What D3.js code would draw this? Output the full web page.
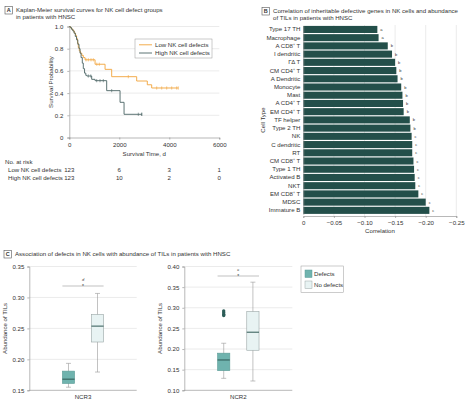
<!DOCTYPE html>
<html><head><meta charset="utf-8">
<script src="https://cdn.jsdelivr.net/npm/d3@7"></script>
<style>
body{margin:0;background:#fff;}
text{font-family:"Liberation Sans Narrow","Liberation Sans",Arial,sans-serif;fill:#333;}
</style></head><body>
<script>
// ---------- DATA ----------
// Panel A: Kaplan-Meier steps
const lowTimes = [0,40,80,120,160,200,250,290,330,360,400,440,500,560,630,1030,1430,1695,2695,3120,3295];
const lowSurv  = [1.0,0.99,0.98,0.97,0.96,0.94,0.92,0.89,0.85,0.81,0.78,0.76,0.74,0.72,0.70,0.66,0.614,0.548,0.509,0.475,0.446];
const lowEnd = 4360;
const lowCensor = [668,760,868,960,1100,1200,2360,3496,3696,3896,4096,4296];
const highTimes = [0,40,90,140,190,240,290,340,390,430,470,520,560,610,660,700,895,1030,1495,2030,2190];
const highSurv  = [1.0,0.99,0.975,0.96,0.94,0.91,0.88,0.84,0.80,0.76,0.72,0.67,0.62,0.58,0.56,0.554,0.524,0.512,0.422,0.317,0.209];
const highEnd = 2900;
const highCensor = [760,860,1096,1228,1360,1696,2760,2896];
const kmXTicks = [0,2000,4000,6000];
const kmYTicks = [0,0.2,0.4,0.6,0.8,1.0];
const riskGroups = ["Low NK cell defects","High NK cell defects"];
const riskLow = [123,6,3,1];
const riskHigh = [123,10,2,0];

// Panel B: correlations
const cellTypes = ["Type 17 TH","Macrophage","A CD8\u207A T","I dendritic","\u0393\u0394 T","CM CD4\u207A T","A Dendritic","Monocyte","Mast","A CD4\u207A T","EM CD4\u207A T","TF helper","Type 2 TH","NK","C dendritic","RT","CM CD8\u207A T","Type 1 TH","Activated B","NKT","EM CD8\u207A T","MDSC","Immature B"];
const correlations = [-0.121,-0.123,-0.138,-0.145,-0.150,-0.152,-0.154,-0.160,-0.162,-0.163,-0.164,-0.174,-0.175,-0.177,-0.178,-0.178,-0.180,-0.181,-0.182,-0.183,-0.188,-0.200,-0.206];
const sigLetters = ["a","a","b","b","b","b","b","b","b","b","b","b","b","c","c","c","c","c","c","c","c","c","c"];
const corrTicks = [0,-0.05,-0.10,-0.15,-0.20,-0.25];

// Panel C: boxplots  [low whisker, q1, median, q3, high whisker]
const groups = ["Defects","No defects"];
const ncr3Defects = [0.155,0.161,0.168,0.181,0.1935];
const ncr3NoDefects = [0.1795,0.228,0.2537,0.2726,0.3065];
const ncr2Defects = [0.129,0.1476,0.1735,0.190,0.214];
const ncr2NoDefects = [0.1225,0.197,0.2408,0.2908,0.362];
const ncr2Outliers = [0.281,0.284,0.288,0.292];
const ncr3Ticks = [0.15,0.20,0.25,0.30,0.35];
const ncr2Ticks = [0.10,0.15,0.20,0.25,0.30,0.35,0.40];

// ---------- DRAW ----------
const W=467,H=405;
const svg=d3.select("body").append("svg").attr("width",W).attr("height",H);
const FS=6.1;
const lowCol="#f2a43a", highCol="#4b6464";
const gridCol="#dedede", axisCol="#888";

function panelTitle(x,y,letter,lines){
  svg.append("rect").attr("x",x).attr("y",y-5.5).attr("width",7.5).attr("height",7.5)
    .attr("fill","#fff").attr("stroke","#555").attr("stroke-width",0.6);
  svg.append("text").attr("x",x+3.75).attr("y",y).attr("text-anchor","middle")
    .attr("font-size",5.5).attr("font-weight","bold").text(letter);
  lines.forEach((l,i)=>svg.append("text").attr("x",x+11).attr("y",y+i*7)
    .attr("font-size",FS).text(l));
}

// ===== Panel A =====
panelTitle(5,12,"A",["Kaplan-Meier survival curves for NK cell defect groups","in patients with HNSC"]);
const kx=d3.scaleLinear().domain([0,6000]).range([69.3,219.3]);
const ky=d3.scaleLinear().domain([0,1]).range([137.5,26.5]);
const gA=svg.append("g");
kmYTicks.filter(d=>d>0).forEach(t=>{
  gA.append("line").attr("x1",kx(0)).attr("x2",kx(6000)).attr("y1",ky(t)).attr("y2",ky(t))
   .attr("stroke",gridCol).attr("stroke-width",0.6);
});
const axAy=d3.axisLeft(ky).tickValues(kmYTicks).tickSize(2).tickFormat(d=>d===0?"0":d3.format(".1f")(d));
const gay=gA.append("g").attr("transform",`translate(${kx(0)},0)`).call(axAy);
const axAx=d3.axisBottom(kx).tickValues(kmXTicks).tickSize(2).tickFormat(d3.format("d"));
const gax=gA.append("g").attr("transform",`translate(0,${ky(0)})`).call(axAx);
[gay,gax].forEach(g=>{g.selectAll("path,line").attr("stroke",axisCol).attr("stroke-width",0.6);
  g.selectAll("text").attr("font-size",FS).attr("fill","#333");});
gay.selectAll("text").attr("dx",-1);
gA.append("text").attr("transform",`translate(${53},${ky(0.5)}) rotate(-90)`).attr("text-anchor","middle").attr("font-size",FS).text("Survival Probability");
gA.append("text").attr("x",kx(3000)).attr("y",156).attr("text-anchor","middle").attr("font-size",FS).text("Survival Time, d");

function stepPath(times,surv,end){
  let d=`M${kx(times[0])},${ky(surv[0])}`;
  for(let i=1;i<times.length;i++){d+=`H${kx(times[i])}V${ky(surv[i])}`;}
  d+=`H${kx(end)}`;return d;
}
function survAt(times,surv,t){let s=surv[0];for(let i=0;i<times.length;i++){if(times[i]<=t)s=surv[i];}return s;}
function drawKM(times,surv,end,cens,col){
  gA.append("path").attr("d",stepPath(times,surv,end)).attr("fill","none").attr("stroke",col).attr("stroke-width",0.9);
  cens.concat([end]).forEach(t=>{const y=ky(survAt(times,surv,t));
    gA.append("line").attr("x1",kx(t)).attr("x2",kx(t)).attr("y1",y-1.6).attr("y2",y+1.6).attr("stroke",col).attr("stroke-width",0.6);});
}
drawKM(lowTimes,lowSurv,lowEnd,lowCensor,lowCol);
drawKM(highTimes,highSurv,highEnd,highCensor,highCol);
// legend
gA.append("rect").attr("x",135).attr("y",39).attr("width",77).attr("height",19).attr("fill","#fff").attr("stroke","#999").attr("stroke-width",0.5);
[[lowCol,riskGroups[0],44.8],[highCol,riskGroups[1],53]].forEach(([c,l,y])=>{
  gA.append("line").attr("x1",139).attr("x2",152).attr("y1",y).attr("y2",y).attr("stroke",c).attr("stroke-width",0.9);
  gA.append("text").attr("x",155).attr("y",y+2).attr("font-size",FS).text(l);
});
// risk table
gA.append("text").attr("x",5).attr("y",164).attr("font-size",FS).text("No. at risk");
[[riskGroups[0],riskLow,172],[riskGroups[1],riskHigh,179.7]].forEach(([l,vals,y])=>{
  gA.append("text").attr("x",8).attr("y",y).attr("font-size",FS).text(l);
  vals.forEach((v,i)=>gA.append("text").attr("x",kx(kmXTicks[i])).attr("y",y).attr("text-anchor","middle").attr("font-size",FS).text(v));
});

// ===== Panel B =====
panelTitle(262,13,"B",["Correlation of inheritable defective genes in NK cells and abundance","of TILs in patients with HNSC"]);
const bx=d3.scaleLinear().domain([0,-0.25]).range([303.3,456.3]);
const by=d3.scaleBand().domain(cellTypes).range([25.5,214.3]).paddingInner(0.14).paddingOuter(0.05);
const gB=svg.append("g");
corrTicks.filter(t=>t!==0).forEach(t=>gB.append("line").attr("x1",bx(t)).attr("x2",bx(t)).attr("y1",25).attr("y2",216).attr("stroke",gridCol).attr("stroke-width",0.6));
gB.selectAll("rect.bar").data(cellTypes).join("rect").attr("class","bar")
  .attr("x",bx(0)).attr("y",d=>by(d)).attr("height",by.bandwidth())
  .attr("width",(d,i)=>bx(correlations[i])-bx(0)).attr("fill","#234f4a");
gB.selectAll("text.sig").data(cellTypes).join("text").attr("class","sig")
  .attr("x",(d,i)=>bx(correlations[i])+3).attr("y",d=>by(d)+by.bandwidth()/2+1.5)
  .attr("font-size",4).text((d,i)=>sigLetters[i]);
const gby=gB.append("g").attr("transform",`translate(${bx(0)},0)`).call(d3.axisLeft(by).tickSize(0).tickPadding(3));
const gbx=gB.append("g").attr("transform",`translate(0,216)`).call(d3.axisBottom(bx).tickValues(corrTicks).tickSize(2).tickFormat(d=>d===0?"0":d3.format(".2f")(d).replace("-","\u2212")));
[gby,gbx].forEach(g=>{g.selectAll("path,line").attr("stroke",axisCol).attr("stroke-width",0.6);
  g.selectAll("text").attr("font-size",FS).attr("fill","#333");});
gB.append("text").attr("transform",`translate(265,120) rotate(-90)`).attr("text-anchor","middle").attr("font-size",FS).text("Cell Type");
gB.append("text").attr("x",380).attr("y",233).attr("text-anchor","middle").attr("font-size",FS).text("Correlation");

// ===== Panel C =====
panelTitle(4,256,"C",["Association of defects in NK cells with abundance of TILs in patients with HNSC"]);
const defFill="#6fb3ae", defStroke="#5c9c97", noFill="#e8f3f3", noStroke="#9aa6a6", medCol="#2e5753", whiskCol="#999";
function boxPanel(x0,x1,domain,ticks,cat,dataDef,dataNo,outliers){
  const g=svg.append("g");
  const y=d3.scaleLinear().domain(domain).range([390.3,266.5]);
  const xb=d3.scaleBand().domain(groups).range([x0,x1]).paddingInner(0.58).paddingOuter(1.14);
  ticks.filter(t=>t!==domain[0]).forEach(t=>g.append("line").attr("x1",x0).attr("x2",x1).attr("y1",y(t)).attr("y2",y(t)).attr("stroke",gridCol).attr("stroke-width",0.6));
  const ay=g.append("g").attr("transform",`translate(${x0},0)`).call(d3.axisLeft(y).tickValues(ticks).tickSize(2).tickFormat(d3.format(".2f")));
  g.append("line").attr("x1",x0).attr("x2",x1).attr("y1",y(domain[0])).attr("y2",y(domain[0])).attr("stroke",axisCol).attr("stroke-width",0.6);
  ay.selectAll("path,line").attr("stroke",axisCol).attr("stroke-width",0.6);
  ay.selectAll("text").attr("font-size",FS).attr("fill","#333");
  g.append("text").attr("transform",`translate(${x0-22},${y((domain[0]+domain[1])/2)}) rotate(-90)`).attr("text-anchor","middle").attr("font-size",FS).text("Abundance of TILs");
  g.append("text").attr("x",(x0+x1)/2).attr("y",398.5).attr("text-anchor","middle").attr("font-size",FS).text(cat);
  [[groups[0],dataDef,defFill,defStroke],[groups[1],dataNo,noFill,noStroke]].forEach(([gr,d,f,s])=>{
    const bx0=xb(gr),bw=xb.bandwidth(),cx=bx0+bw/2;
    g.append("line").attr("x1",cx).attr("x2",cx).attr("y1",y(d[0])).attr("y2",y(d[4])).attr("stroke",whiskCol).attr("stroke-width",0.6);
    [d[0],d[4]].forEach(v=>g.append("line").attr("x1",cx-2.5).attr("x2",cx+2.5).attr("y1",y(v)).attr("y2",y(v)).attr("stroke",whiskCol).attr("stroke-width",0.6));
    g.append("rect").attr("x",bx0).attr("width",bw).attr("y",y(d[3])).attr("height",y(d[1])-y(d[3])).attr("fill",f).attr("stroke",s).attr("stroke-width",0.6);
    g.append("line").attr("x1",bx0).attr("x2",bx0+bw).attr("y1",y(d[2])).attr("y2",y(d[2])).attr("stroke",medCol).attr("stroke-width",1);
  });
  outliers.forEach(v=>g.append("circle").attr("cx",xb(groups[0])+xb.bandwidth()/2).attr("cy",y(v)).attr("r",1.7).attr("fill","#2c5d58"));
  return {g,y,xb};
}
const p1=boxPanel(29.3,136.7,[0.15,0.35],ncr3Ticks,"NCR3",ncr3Defects,ncr3NoDefects,[]);
const p2=boxPanel(184.3,292.3,[0.10,0.40],ncr2Ticks,"NCR2",ncr2Defects,ncr2NoDefects,ncr2Outliers);
// significance brackets
[[p1,286,"d"],[p2,276,"c"]].forEach(([p,yy,l])=>{
  const xa=p.xb(groups[0]), xbb=p.xb(groups[1])+p.xb.bandwidth();
  p.g.append("line").attr("x1",xa).attr("x2",xbb).attr("y1",yy).attr("y2",yy).attr("stroke","#999").attr("stroke-width",0.6);
  p.g.append("text").attr("x",(xa+xbb)/2).attr("y",yy+2.2).attr("text-anchor","middle").attr("font-size",5).text("*");
  p.g.append("text").attr("x",(xa+xbb)/2).attr("y",yy-5).attr("text-anchor","middle").attr("font-size",4).attr("font-style","italic").text(l);
});
// legend C
const gl=svg.append("g");
gl.append("rect").attr("x",301).attr("y",266).attr("width",42.7).attr("height",26.7).attr("fill","#fff").attr("stroke","#999").attr("stroke-width",0.5);
[[defFill,defStroke,groups[0],270],[noFill,noStroke,groups[1],281]].forEach(([f,s,l,y])=>{
  gl.append("rect").attr("x",305).attr("y",y).attr("width",7).attr("height",7.5).attr("fill",f).attr("stroke",s).attr("stroke-width",0.5);
  gl.append("text").attr("x",314).attr("y",y+5.5).attr("font-size",FS).text(l);
});
</script>
</body></html>
